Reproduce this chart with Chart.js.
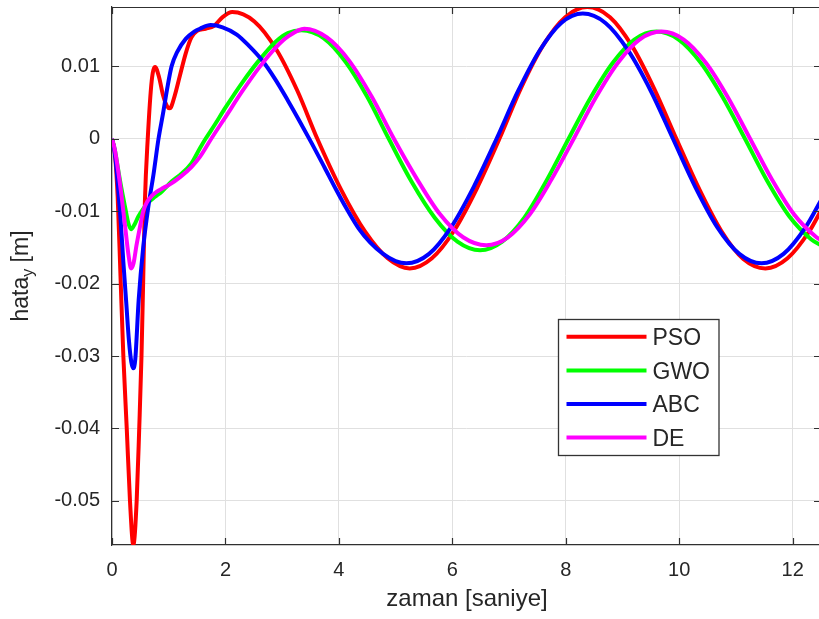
<!DOCTYPE html>
<html>
<head>
<meta charset="utf-8">
<script src="https://cdn.jsdelivr.net/npm/chart.js@4.4.1/dist/chart.umd.min.js"></script>
<style>
  html, body { margin: 0; padding: 0; background: #ffffff; overflow: hidden; width: 819px; height: 619px; }
  #wrap { position: absolute; left: 0; top: 0; width: 822px; height: 619px; }
</style>
</head>
<body>
<div id="wrap"><canvas id="c" width="822" height="619"></canvas></div>
<script>
// ---------- data ----------
const seriesNames = ['PSO', 'GWO', 'ABC', 'DE'];
const seriesColors = ['#ff0000', '#00ff00', '#0000ff', '#ff00ff'];

const xTicks = [0, 2, 4, 6, 8, 10, 12];
const yTicks = [-0.05, -0.04, -0.03, -0.02, -0.01, 0, 0.01];

const tPSO = [0, 0.05, 0.1, 0.15, 0.2, 0.26, 0.317, 0.376, 0.435, 0.48, 0.52, 0.55, 0.58, 0.63, 0.70, 0.76, 0.83, 0.9, 0.97, 1.02, 1.1, 1.2, 1.3, 1.4, 1.5, 1.65, 1.8, 1.95, 2.12, 2.51, 2.90, 3.27, 3.62, 4.05, 4.46, 4.86, 5.25, 5.64, 6.03, 6.43, 6.83, 7.21, 7.60, 7.99, 8.38, 8.78, 9.17, 9.56, 9.95, 10.35, 10.74, 11.13, 11.52, 11.91, 12.30, 12.5];
const yPSO = [0, -0.002, -0.008, -0.019, -0.030, -0.040, -0.050, -0.0561, -0.050, -0.040, -0.030, -0.0195, -0.0087, 0.0, 0.0080, 0.0099, 0.0085, 0.0060, 0.0045, 0.0042, 0.0058, 0.0088, 0.0118, 0.0140, 0.0149, 0.0152, 0.0156, 0.0168, 0.0175, 0.0162, 0.0123, 0.0066, 0.0, -0.0072, -0.0128, -0.0165, -0.0179, -0.0165, -0.0127, -0.0069, 0.0, 0.0070, 0.0129, 0.0168, 0.0182, 0.0168, 0.0128, 0.0069, 0.0, -0.0069, -0.0127, -0.0166, -0.0179, -0.0165, -0.0127, -0.0099];

const tGWO = [0, 0.05, 0.11, 0.17, 0.23, 0.29, 0.336, 0.4, 0.46, 0.55, 0.64, 0.76, 0.876, 1.05, 1.2, 1.4, 1.55, 1.65, 1.8, 2.0, 2.3, 2.6, 2.9, 3.1, 3.34, 3.73, 4.12, 4.50, 4.88, 5.28, 5.69, 6.09, 6.49, 6.88, 7.27, 7.66, 8.05, 8.44, 8.83, 9.21, 9.60, 9.99, 10.38, 10.77, 11.16, 11.55, 11.94, 12.33, 12.5];
const yGWO = [0, -0.0015, -0.0043, -0.0070, -0.0094, -0.0117, -0.0125, -0.0118, -0.0108, -0.0097, -0.0088, -0.0080, -0.0073, -0.0059, -0.0050, -0.0034, -0.0013, 0.0, 0.0018, 0.0043, 0.0078, 0.0109, 0.0135, 0.0146, 0.0150, 0.0139, 0.0106, 0.0058, 0.0, -0.0059, -0.0109, -0.0142, -0.0154, -0.0142, -0.0109, -0.0058, 0.0, 0.0057, 0.0105, 0.0137, 0.0148, 0.0137, 0.0105, 0.0057, 0.0, -0.0058, -0.0107, -0.0139, -0.0147];

const tABC = [0, 0.05, 0.1, 0.15, 0.2, 0.25, 0.3, 0.34, 0.376, 0.41, 0.47, 0.55, 0.64, 0.73, 0.82, 0.9, 0.97, 1.05, 1.15, 1.3, 1.45, 1.55, 1.74, 1.95, 2.2, 2.42, 2.64, 2.87, 3.1, 3.31, 3.52, 3.75, 3.95, 4.14, 4.35, 4.55, 4.78, 5.0, 5.19, 5.59, 5.98, 6.38, 6.78, 7.16, 7.54, 7.92, 8.30, 8.70, 9.10, 9.50, 9.89, 10.28, 10.67, 11.06, 11.45, 11.84, 12.23, 12.5];
const yABC = [0, -0.002, -0.006, -0.011, -0.017, -0.0225, -0.028, -0.0308, -0.0317, -0.0305, -0.0223, -0.0150, -0.0094, -0.0050, 0.0, 0.0035, 0.0068, 0.0100, 0.0120, 0.0138, 0.0148, 0.0152, 0.0157, 0.0154, 0.0144, 0.0128, 0.0109, 0.0083, 0.0053, 0.0024, -0.0006, -0.0040, -0.0070, -0.0097, -0.0124, -0.0143, -0.0159, -0.0169, -0.0172, -0.0159, -0.0122, -0.0066, 0.0, 0.0066, 0.0122, 0.0160, 0.0173, 0.0160, 0.0122, 0.0066, 0.0, -0.0066, -0.0122, -0.0159, -0.0172, -0.0159, -0.0122, -0.0085];

const tDE = [0, 0.05, 0.11, 0.17, 0.23, 0.29, 0.336, 0.38, 0.43, 0.49, 0.55, 0.62, 0.7, 0.79, 0.9, 1.02, 1.2, 1.4, 1.55, 1.75, 2.0, 2.3, 2.6, 2.9, 3.1, 3.39, 3.79, 4.18, 4.58, 4.97, 5.38, 5.78, 6.19, 6.60, 6.98, 7.37, 7.75, 8.14, 8.53, 8.92, 9.30, 9.69, 10.08, 10.47, 10.86, 11.25, 11.64, 12.03, 12.42, 12.5];
const yDE = [0, -0.0015, -0.0045, -0.0080, -0.0120, -0.0160, -0.0179, -0.0172, -0.0148, -0.0123, -0.0100, -0.0087, -0.0079, -0.0073, -0.0068, -0.0063, -0.0053, -0.0039, -0.0025, 0.0, 0.0030, 0.0066, 0.0099, 0.0127, 0.0141, 0.0152, 0.0140, 0.0108, 0.0058, 0.0, -0.0056, -0.0104, -0.0136, -0.0147, -0.0136, -0.0104, -0.0056, 0.0, 0.0057, 0.0105, 0.0137, 0.0148, 0.0137, 0.0105, 0.0057, 0.0, -0.0057, -0.0105, -0.0136, -0.0140];

const xLabel = 'zaman [saniye]';
const yLabelMain = 'hata';
const yLabelSub = 'y';
const yLabelUnit = ' [m]';

// ---------- chart ----------
const FONT = "'Liberation Sans', Arial, Helvetica, sans-serif";
const TXT = '#262626';
const AX = '#303030';

const seriesT = [tPSO, tGWO, tABC, tDE];
const seriesY = [yPSO, yGWO, yABC, yDE];

const datasets = seriesNames.map((name, i) => ({
  label: name,
  data: seriesT[i].map((t, k) => ({ x: t, y: seriesY[i][k] })),
  borderColor: seriesColors[i],
  backgroundColor: seriesColors[i],
  borderWidth: 4,
  pointRadius: 0,
  showLine: true,
  fill: false,
  cubicInterpolationMode: 'monotone',
  order: seriesNames.length - 1 - i
}));

const matlabAxes = {
  id: 'matlabAxes',
  afterDraw(chart) {
    const ctx = chart.ctx;
    const a = chart.chartArea;
    const xs = chart.scales.x, ys = chart.scales.y;
    ctx.save();
    // box top line + right line
    ctx.strokeStyle = AX;
    ctx.lineWidth = 1.2;
    ctx.beginPath();
    ctx.moveTo(a.left, a.top + 0.5); ctx.lineTo(a.right, a.top + 0.5);
    ctx.moveTo(a.right - 0.5, a.top); ctx.lineTo(a.right - 0.5, a.bottom);
    ctx.stroke();
    // inward ticks
    const tl = 7;
    ctx.beginPath();
    xTicks.forEach(v => {
      const px = Math.round(xs.getPixelForValue(v)) + 0.5;
      ctx.moveTo(px, a.bottom); ctx.lineTo(px, a.bottom - tl);
      ctx.moveTo(px, a.top); ctx.lineTo(px, a.top + tl);
    });
    yTicks.forEach(v => {
      const py = Math.round(ys.getPixelForValue(v)) + 0.5;
      ctx.moveTo(a.left, py); ctx.lineTo(a.left + tl, py);
      ctx.moveTo(a.right, py); ctx.lineTo(a.right - tl, py);
    });
    ctx.stroke();

    // x axis title
    ctx.fillStyle = TXT;
    ctx.font = '24px ' + FONT;
    ctx.textAlign = 'center';
    ctx.textBaseline = 'alphabetic';
    ctx.fillText(xLabel, 467, 606);

    // y axis title with subscript
    ctx.save();
    ctx.translate(28, (a.top + a.bottom) / 2);
    ctx.rotate(-Math.PI / 2);
    ctx.textAlign = 'left';
    ctx.font = '23px ' + FONT;
    const w1 = ctx.measureText(yLabelMain).width;
    const w3 = ctx.measureText(yLabelUnit).width;
    ctx.font = '16px ' + FONT;
    const w2 = ctx.measureText(yLabelSub).width;
    let sx = -(w1 + w2 + w3) / 2;
    ctx.font = '23px ' + FONT;
    ctx.fillText(yLabelMain, sx, 0);
    ctx.font = '16px ' + FONT;
    ctx.fillText(yLabelSub, sx + w1, 5);
    ctx.font = '23px ' + FONT;
    ctx.fillText(yLabelUnit, sx + w1 + w2, 0);
    ctx.restore();

    // legend box
    const bx = 558.5, by = 319.5, bw = 160.5, bh = 136;
    ctx.fillStyle = '#ffffff';
    ctx.fillRect(bx, by, bw, bh);
    ctx.strokeStyle = '#333333';
    ctx.lineWidth = 1.3;
    ctx.strokeRect(bx, by, bw, bh);
    const rowY = [336.7, 370.5, 404, 437.5];
    ctx.font = '23px ' + FONT;
    ctx.textAlign = 'left';
    ctx.textBaseline = 'middle';
    seriesNames.forEach((n, i) => {
      ctx.strokeStyle = seriesColors[i];
      ctx.lineWidth = 4;
      ctx.beginPath();
      ctx.moveTo(566.5, rowY[i]); ctx.lineTo(646.5, rowY[i]);
      ctx.stroke();
      ctx.fillStyle = TXT;
      ctx.fillText(n, 652.5, rowY[i] + 2);
    });
    ctx.restore();
  }
};

new Chart(document.getElementById('c'), {
  type: 'scatter',
  data: { datasets },
  options: {
    responsive: false,
    animation: false,
    devicePixelRatio: 1,
    layout: { padding: { top: 7, right: 1, bottom: 0, left: 0 } },
    plugins: { legend: { display: false }, tooltip: { enabled: false } },
    elements: { line: { tension: 0.4 } },
    scales: {
      x: {
        type: 'linear',
        min: 0, max: 12.5,
        afterBuildTicks: s => { s.ticks = xTicks.map(v => ({ value: v })); },
        afterFit: s => { s.height = 74; s.paddingLeft = 0; s.paddingRight = 0; },
        grid: { color: '#e0e0e0', lineWidth: 1, drawTicks: false },
        border: { display: true, color: AX, width: 1.2 },
        ticks: { color: TXT, font: { family: FONT, size: 20 }, padding: 13, maxRotation: 0,
                 callback: v => String(v) }
      },
      y: {
        type: 'linear',
        min: -0.0561, max: 0.0182,
        afterBuildTicks: s => { s.ticks = yTicks.map(v => ({ value: v })); },
        afterFit: s => { s.width = 112; s.paddingTop = 0; s.paddingBottom = 0; },
        grid: { color: '#e0e0e0', lineWidth: 1, drawTicks: false },
        border: { display: true, color: AX, width: 1.2 },
        ticks: { color: TXT, font: { family: FONT, size: 20 }, padding: 12,
                 callback: v => String(Math.round(v * 100) / 100) }
      }
    }
  },
  plugins: [matlabAxes]
});
</script>
</body>
</html>
